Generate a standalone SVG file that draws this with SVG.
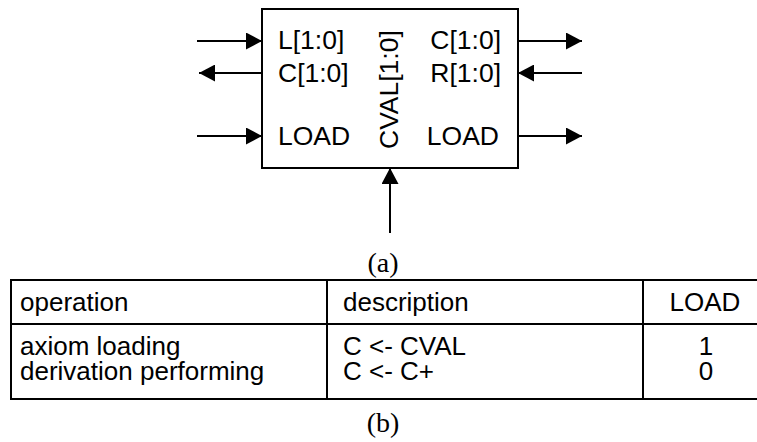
<svg xmlns="http://www.w3.org/2000/svg" width="757" height="442" viewBox="0 0 757 442">
<defs>
<marker id="ah" viewBox="0 0 16 17" refX="16" refY="8.5" markerWidth="16" markerHeight="17" markerUnits="userSpaceOnUse" orient="auto">
<path d="M0,0 L16,8.5 L0,17 z" fill="#000"/>
</marker>
<style>
.ln{stroke:#000;stroke-width:2;fill:none}
.lbl{font-family:"Liberation Sans",Arial,sans-serif;font-size:26.5px;fill:#000}
.tb{font-family:"Liberation Sans",Arial,sans-serif;font-size:26px;fill:#000}
.cap{font-family:"Liberation Serif","Times New Roman",serif;font-size:28px;fill:#000}
.tl{stroke:#000;stroke-width:2;fill:none}
</style>
</defs>
<rect width="757" height="442" fill="#fff"/>
<g id="block">
<rect x="262" y="9" width="256" height="159" class="ln"/>
<text class="lbl" x="278" y="49">L[1:0]</text>
<text class="lbl" x="278" y="82">C[1:0]</text>
<text class="lbl" x="278" y="145">LOAD</text>
<text class="lbl" x="501" y="49" text-anchor="end">C[1:0]</text>
<text class="lbl" x="501" y="82" text-anchor="end">R[1:0]</text>
<text class="lbl" x="499" y="145" text-anchor="end">LOAD</text>
<text class="lbl" transform="translate(398,149) rotate(-90)">CVAL[1:0]</text>
</g>
<g id="connectors">
<line x1="197" y1="41" x2="262" y2="41" class="ln" marker-end="url(#ah)"/>
<line x1="262" y1="73" x2="199" y2="73" class="ln" marker-end="url(#ah)"/>
<line x1="197" y1="136" x2="262" y2="136" class="ln" marker-end="url(#ah)"/>
<line x1="518" y1="41" x2="582" y2="41" class="ln" marker-end="url(#ah)"/>
<line x1="582" y1="73" x2="518" y2="73" class="ln" marker-end="url(#ah)"/>
<line x1="518" y1="136" x2="582" y2="136" class="ln" marker-end="url(#ah)"/>
<line x1="390" y1="233" x2="390" y2="168" class="ln" marker-end="url(#ah)"/>
</g>
<text class="cap" x="383" y="272" text-anchor="middle">(a)</text>
<g id="table">
<line x1="10" y1="280" x2="757" y2="280" class="tl"/>
<line x1="10" y1="324" x2="757" y2="324" class="tl"/>
<line x1="10" y1="399" x2="757" y2="399" class="tl"/>
<line x1="11" y1="279" x2="11" y2="400" class="tl"/>
<line x1="327" y1="279" x2="327" y2="400" class="tl"/>
<line x1="643" y1="279" x2="643" y2="400" class="tl"/>
<text class="tb" x="20" y="311">operation</text>
<text class="tb" x="343" y="311">description</text>
<text class="tb" x="705" y="311" text-anchor="middle">LOAD</text>
<text class="tb" x="20" y="355">axiom loading</text>
<text class="tb" x="20" y="380">derivation performing</text>
<text class="tb" x="343" y="355">C &lt;- CVAL</text>
<text class="tb" x="343" y="380">C &lt;- C+</text>
<text class="tb" x="706" y="355" text-anchor="middle">1</text>
<text class="tb" x="706" y="380" text-anchor="middle">0</text>
</g>
<text class="cap" x="383" y="432" text-anchor="middle">(b)</text>
</svg>
